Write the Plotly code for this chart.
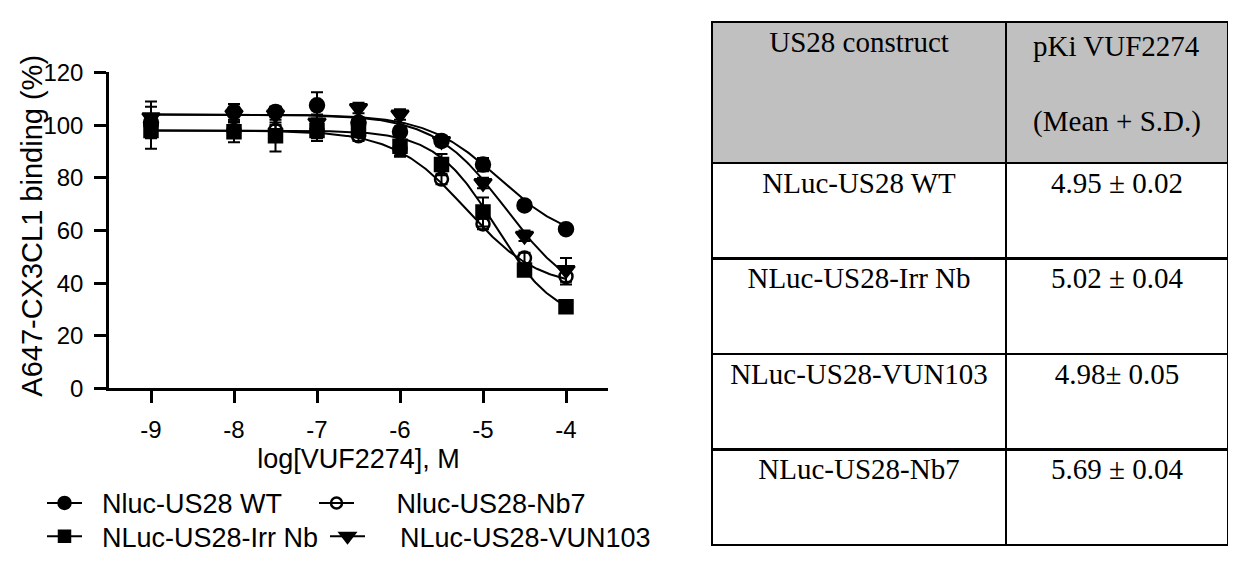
import numpy as np
import plotly.graph_objects as go

SCREEN_W, SCREEN_H = 1236, 577
OFF = 8  # page body margin of the browser
W, H = SCREEN_W - 2 * OFF, SCREEN_H - 2 * OFF

# ---- data ----
log_conc = [-9, -8, -7.5, -7, -6.5, -6, -5.5, -5, -4.5, -4]
series_names = ["Nluc-US28 WT", "Nluc-US28-Nb7", "NLuc-US28-Irr Nb", "NLuc-US28-VUN103"]

wt_mean = [101, 105, 105, 107.5, 101, 97.5, 94, 85, 69.5, 60.5]
wt_sd = [2, 3, 2, 5, 2, 2, 1.5, 2.5, 1.5, 1.5]
nb7_mean = [100, 98, 98, 98, 96, 91, 79.5, 62.5, 49.5, 42.5]
nb7_sd = [9, 2, 2, 3, 2, 2.5, 2, 2, 2, 3]
irr_mean = [98, 97.5, 96, 98, 98.5, 92, 85, 67, 45, 31]
irr_sd = [3, 4, 6, 4, 3, 4, 4, 5.5, 2, 2]
vun_mean = [103, 104, 104, 101, 106.5, 104, 94, 78, 58, 45]
vun_sd = [4, 3, 3, 3, 2, 2, 2, 2, 2, 4.5]

# fitted one-site competition curve parameters (top, bottom, logIC50, Hill slope)
fit_top = [104, 98, 98, 104]
fit_bottom = [55, 38, 25, 32]
fit_logic50 = [-4.8, -5.2, -4.85, -4.72]
fit_hill = [1.0, 1.0, 1.2, 1.0]

x_ticks = [-9, -8, -7, -6, -5, -4]
x_ticktext = ["-9", "-8", "-7", "-6", "-5", "-4"]
y_ticks = [0, 20, 40, 60, 80, 100, 120]
x_title = "log[VUF2274], M"
y_title = "A647-CX3CL1 binding (%)"

table_header = ["US28 construct", "pKi VUF2274<br><br>(Mean + S.D.)"]
table_constructs = ["NLuc-US28 WT", "NLuc-US28-Irr Nb", "NLuc-US28-VUN103", "NLuc-US28-Nb7"]
table_pki = ["4.95 ± 0.02", "5.02 ± 0.04", "4.98± 0.05", "5.69 ± 0.04"]

# ---- styles ----
means = [wt_mean, nb7_mean, irr_mean, vun_mean]
sds = [wt_sd, nb7_sd, irr_sd, vun_sd]
symbols = ["circle", "circle-open", "square", "triangle-down"]
sizes = [14, 13, 13, 15]
legend_ids = ["legend", "legend2", "legend3", "legend4"]
pads = ["\u00a0\u00a0", "\u00a0\u00a0\u00a0\u00a0\u00a0", "\u00a0\u00a0", "\u00a0\u00a0\u00a0\u00a0"]
# legend item origin (screen px) : x, top
legend_pos = [(42, 488), (314, 488), (42, 523), (325, 523)]


def px_x(p):
    return (p - OFF) / W


def px_y(p):
    return 1 - (p - OFF) / H


fig = go.Figure()

xfit = np.linspace(min(log_conc), max(log_conc), 300)
for i in range(4):
    yfit = fit_bottom[i] + (fit_top[i] - fit_bottom[i]) / (1 + 10 ** ((xfit - fit_logic50[i]) * fit_hill[i]))
    fig.add_trace(go.Scatter(x=xfit, y=yfit, mode="lines", line=dict(color="black", width=2),
                             showlegend=False, hoverinfo="skip"))

for i in range(4):
    fig.add_trace(go.Scatter(
        x=log_conc, y=means[i], mode="markers",
        marker=dict(symbol=symbols[i], size=sizes[i], color="black",
                    line=dict(color="black", width=2.5)),
        error_y=dict(type="data", array=sds[i], color="black", thickness=2, width=6),
        showlegend=False, name=series_names[i]))

for i in range(4):
    fig.add_trace(go.Scatter(
        x=[None], y=[None], mode="lines+markers", name=pads[i] + series_names[i],
        marker=dict(symbol=symbols[i], size=sizes[i] - 2, color="black",
                    line=dict(color="black", width=2.5)),
        line=dict(color="black", width=2), legend=legend_ids[i]))

fig.add_trace(go.Table(
    domain=dict(x=[px_x(712), 1], y=[0, 1]),
    columnwidth=[294, W - (712 - OFF) - 294],
    header=dict(values=table_header, fill_color="#C0C0C0",
                line=dict(color="black", width=2.5),
                font=dict(family="Liberation Serif", size=29, color="black"),
                align="center", height=141),
    cells=dict(values=[table_constructs, table_pki], fill_color="white",
               line=dict(color="black", width=2.5),
               font=dict(family="Liberation Serif", size=29, color="black"),
               align="center", height=95.5),
))

axis_font = dict(family="Liberation Sans", size=24, color="black")
title_font = dict(family="Liberation Sans", size=27, color="black")
legend_font = dict(family="Liberation Sans", size=27, color="black")

layout_legends = {}
for i in range(4):
    lx, ly = legend_pos[i]
    layout_legends[legend_ids[i]] = dict(
        x=px_x(lx), xanchor="left", y=px_y(ly), yanchor="top", bgcolor="rgba(0,0,0,0)",
        font=legend_font, itemwidth=35, tracegroupgap=0)

fig.add_annotation(text=y_title, textangle=-90, xref="paper", yref="paper",
                   x=px_x(32), y=px_y(222), xanchor="center", yanchor="middle",
                   showarrow=False, font=dict(family="Liberation Sans", size=29, color="black"))

fig.update_layout(
    width=W, height=H,
    margin=dict(l=0, r=0, t=0, b=0),
    paper_bgcolor="white", plot_bgcolor="white",
    font=dict(family="Liberation Sans", color="black"),
    xaxis=dict(domain=[px_x(109), px_x(608)], range=[-9.506, -3.494],
               tickvals=x_ticks, ticktext=x_ticktext, ticks="outside", ticklen=12, tickwidth=2.5,
               tickcolor="black", showline=True, linewidth=2.5, linecolor="black",
               showgrid=False, zeroline=False, tickfont=axis_font, ticklabelstandoff=6,
               title=dict(text=x_title, font=title_font, standoff=8)),
    yaxis=dict(domain=[px_y(393), px_y(61)], range=[0, 120],
               tickvals=y_ticks, ticks="outside", ticklen=12, tickwidth=2.5,
               tickcolor="black", showline=True, linewidth=2.5, linecolor="black",
               showgrid=False, zeroline=False, tickfont=axis_font, ticklabelstandoff=6),
    showlegend=True,
    **layout_legends,
)

fig.write_html("out.html")
